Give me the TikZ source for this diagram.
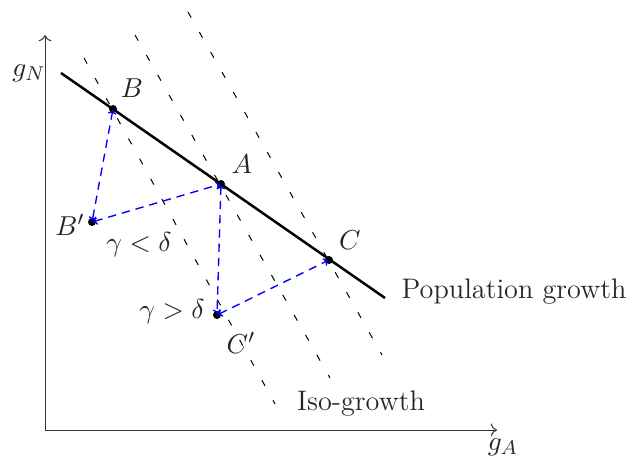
\documentclass[tikz,border=0pt]{standalone}
\usetikzlibrary{arrows.meta}
\begin{document}
\begin{tikzpicture}[x=0.4pt,y=-0.4pt,
  font=\fontsize{11.3}{13}\selectfont,
  axis/.style={->,line width=0.4pt,black!80},
  popline/.style={line width=1pt,black},
  isoline/.style={line width=0.4pt,black,dash pattern=on 2.6pt off 6.6pt},
  shiftline/.style={{To[length=1.6pt,width=3.4pt]}-{To[length=1.6pt,width=3.4pt]},blue,line width=0.55pt,dash pattern=on 3.3pt off 2.4pt,shorten <=0.5pt,shorten >=0.5pt},
  dotpt/.style={circle,fill=black,inner sep=0pt,minimum size=3.2pt},
  lab/.style={inner sep=0pt,text=black!85}]
\useasboundingbox (0,0) rectangle (628,461);
% axes
\coordinate (O) at (45,430);
\coordinate (ytop) at (45,35);
\coordinate (xend) at (497,430);
\draw[axis] (O) -- (ytop);
\draw[axis] (O) -- (xend);
\node[lab] (gN) at (29,73) {$g_N$};
\node[lab] (gA) at (503,447) {$g_A$};
% iso-growth lines
\coordinate (i1a) at (84,58);  \coordinate (i1b) at (275,404);
\coordinate (i2a) at (135,35); \coordinate (i2b) at (330,378);
\coordinate (i3a) at (188,12); \coordinate (i3b) at (382,355);
\draw[isoline] (i1a) -- (i1b);
\draw[isoline] (i2a) -- (i2b);
\draw[isoline] (i3a) -- (i3b);
% population growth line
\coordinate (pa) at (61,73);
\coordinate (pb) at (385,298);
\draw[popline] (pa) -- (pb);
% points
\node[dotpt] (B) at (113,109) {};
\node[dotpt] (A) at (221,184) {};
\node[dotpt] (C) at (329,260) {};
\node[dotpt] (Bp) at (92,222) {};
\node[dotpt] (Cp) at (217,315) {};
% shifts
\draw[shiftline] (B.center) -- (Bp.center);
\draw[shiftline] (Bp.center) -- (A.center);
\draw[shiftline] (A.center) -- (Cp.center);
\draw[shiftline] (Cp.center) -- (C.center);
% labels
\node[lab] (lB) at (132,88) {$B$};
\node[lab] (lA) at (242,164) {$A$};
\node[lab] (lC) at (350,240) {$C$};
\node[lab] (lBp) at (70,225) {$B'$};
\node[lab] (lCp) at (241,343) {$C'$};
\node[lab] (lt1) at (139,245) {$\gamma<\delta$};
\node[lab] (lt2) at (172,312) {$\gamma>\delta$};
\node[lab] (pop) at (514,292) {Population growth};
\node[lab] (iso) at (361,404) {Iso-growth};
\end{tikzpicture}
\end{document}
